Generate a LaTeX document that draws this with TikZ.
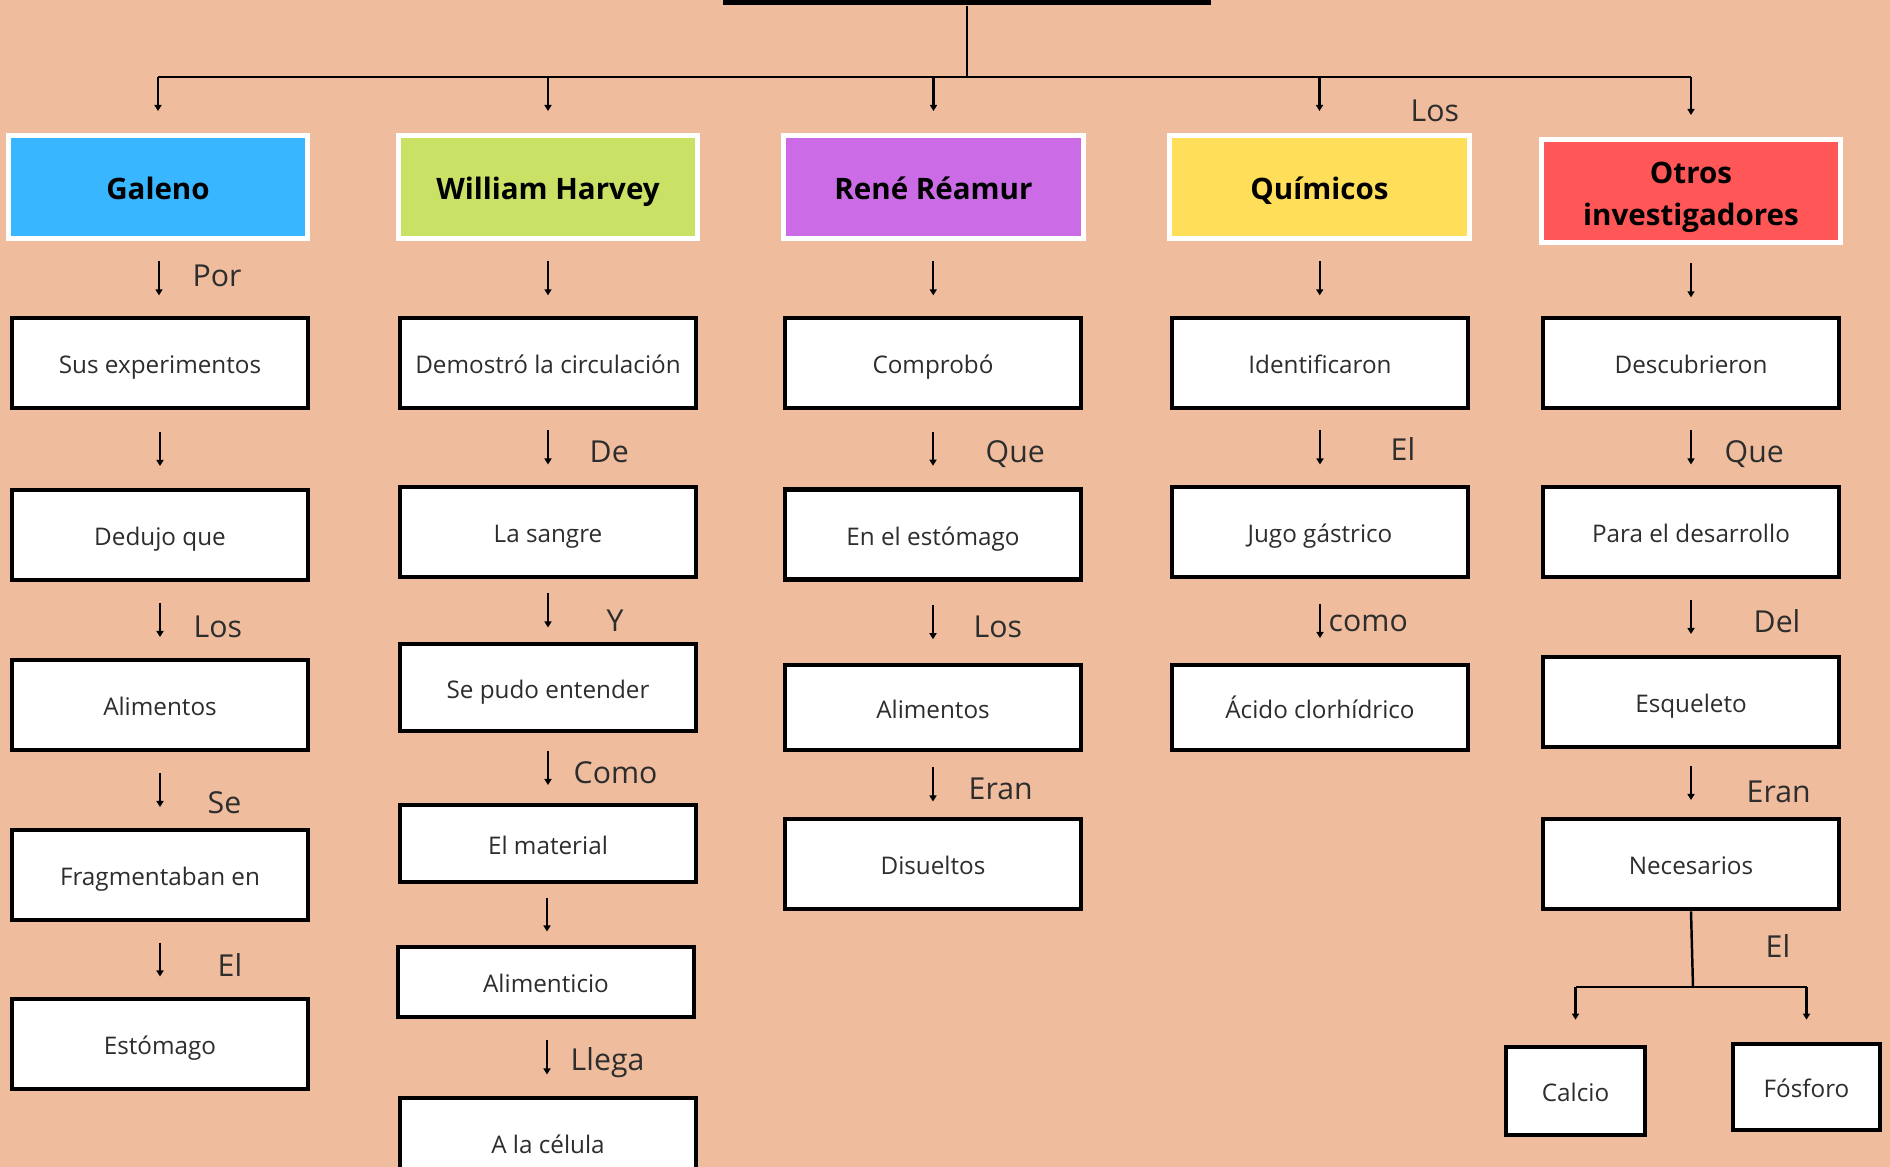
\documentclass[tikz,border=0pt]{standalone}
\usepackage{fontspec}
\setmainfont{Open Sans}
\usetikzlibrary{arrows.meta}
\usetikzlibrary{calc}

\definecolor{fondo}{RGB}{239,189,158}
\definecolor{azul}{RGB}{56,182,255}
\definecolor{lima}{RGB}{201,226,101}
\definecolor{morado}{RGB}{203,108,230}
\definecolor{amarillo}{RGB}{255,222,89}
\definecolor{rojo}{RGB}{255,87,87}
\definecolor{tinta}{RGB}{45,45,45}

\tikzset{
	cabeza/.style={draw=white, line width=1.4pt, minimum width=2.99cm, minimum height=1.03cm,
		font=\bfseries\fontsize{8.4}{12}\selectfont, align=center, inner sep=0pt,
		text height=0.73em, text depth=0pt},
	caja/.style={draw=black, fill=white, line width=1.3pt, minimum width=2.96cm, minimum height=0.9cm,
		font=\fontsize{6.9}{8}\selectfont, text=tinta, inner sep=0pt,
		text height=0.62em, text depth=0pt},
	flecha/.style={-{Triangle[length=0.06cm, width=0.07cm]}, line width=0.6pt},
	linea/.style={line width=0.7pt},
	nexo/.style={anchor=west, font=\fontsize{8.6}{10}\selectfont, text=tinta,
		text height=0.72em, text depth=0pt, inner sep=0pt, yshift=-0.7pt},
}

\begin{document}
\begin{tikzpicture}[x=0.01cm, y=-0.01cm]
	\useasboundingbox (0,0) rectangle (1890,1167);
	\fill[fondo] (0,0) rectangle (1890,1167);
	
	% titulo (solo se ve el borde inferior)
	\node[fill=black, minimum width=4.88cm, minimum height=0.06cm, inner sep=0pt] (titulo) at (967,2.5) {};
	\coordinate (rama) at (967,77);
	
	% cabeceras
	\node[cabeza, fill=azul] (galeno) at (158,187) {Galeno};
	\node[cabeza, fill=lima] (harvey) at (548,187) {William Harvey};
	\node[cabeza, fill=morado] (reaumur) at (933.5,187) {René Réamur};
	\node[cabeza, fill=amarillo] (quimicos) at (1319.5,187) {Químicos};
	\node[cabeza, fill=rojo, text height=19.5pt] (otros) at (1691,191) {Otros\\investigadores};
	
	\draw[linea] (titulo.south) -- (rama);
	\draw[linea] (rama -| galeno) -- (rama -| otros);
	\foreach \n in {galeno, harvey, reaumur, quimicos, otros}
	\draw[flecha] (rama -| \n) -- ($(\n.north)+(0,-22)$);
	\node[nexo] at (1410,106) {Los};
	
	% Galeno
	\node[caja] (g1) at (160,363) {Sus experimentos};
	\node[caja] (g2) at (160,535) {Dedujo que};
	\node[caja] (g3) at (160,705) {Alimentos};
	\node[caja] (g4) at (160,875) {Fragmentaban en};
	\node[caja] (g5) at (160,1044) {Estómago};
	
	% William Harvey
	\node[caja] (h1) at (548,363) {Demostró la circulación};
	\node[caja] (h2) at (548,532) {La sangre};
	\node[caja, minimum height=0.87cm] (h3) at (548,687.5) {Se pudo entender};
	\node[caja, minimum height=0.77cm] (h4) at (548,843.5) {El material};
	\node[caja, minimum height=0.7cm] (h5) at (546,982) {Alimenticio};
	\node[caja] (h6) at (548,1143) {A la célula};
	
	% René Réamur
	\node[caja] (r1) at (933,363) {Comprobó};
	\node[caja] (r2) at (933,534.5) {En el estómago};
	\node[caja, minimum height=0.85cm] (r3) at (933,707.5) {Alimentos};
	\node[caja] (r4) at (933,864) {Disueltos};
	
	% Quimicos
	\node[caja] (q1) at (1320,363) {Identificaron};
	\node[caja] (q2) at (1320,532) {Jugo gástrico};
	\node[caja, minimum height=0.85cm] (q3) at (1320,707.5) {Ácido clorhídrico};
	
	% Otros investigadores
	\node[caja] (o1) at (1691,363) {Descubrieron};
	\node[caja] (o2) at (1691,532) {Para el desarrollo};
	\node[caja] (o3) at (1691,702) {Esqueleto};
	\node[caja] (o4) at (1691,864) {Necesarios};
	\node[caja, minimum width=1.39cm, minimum height=0.88cm] (o5) at (1575.5,1091) {Calcio};
	\node[caja, minimum width=1.47cm, minimum height=0.86cm] (o6) at (1806.5,1087) {Fósforo};
	
	% flechas cortas con su nexo
	\foreach \a/\b/\t/\d/\e in {galeno/g1/Por/33/-7, g1/g2//0/0, g2/g3/Los/33/2, g3/g4/Se/47/8, g4/g5/El/57/2,
		harvey/h1//0/0, h1/h2/De/41/0, h2/h3/Y/58/6, h3/h4/Como/25/0, h4/h5//0/0, h5/h6/Llega/23/-2,
		reaumur/r1//0/0, r1/r2/Que/52/-1, r2/r3/Los/40/0, r3/r4/Eran/35/0,
		quimicos/q1//0/0, q1/q2/El/70/-2, q2/q3/como/8/-5,
		otros/o1//0/0, o1/o2/Que/33/0, o2/o3/Del/62/0, o3/o4/Eran/55/4}{
		\coordinate (m) at ($(\a.south)!0.5!(\b.north)$);
		\draw[flecha] ($(m)+(0,-17)$) -- ($(m)+(0,17)$);
		\node[nexo] at ($(m)+(\d,\e)$) {\t};
	}
	
	\coordinate (rama2) at (1693,987);
	\draw[linea] (o4.south) -- (rama2);
	\draw[linea] (rama2 -| o5) -- (rama2 -| o6);
	\draw[flecha] (rama2 -| o5) -- ($(o5.north)+(0,-25)$);
	\draw[flecha] (rama2 -| o6) -- ($(o6.north)+(0,-22)$);
	\node[nexo] at (1765,942) {El};
\end{tikzpicture}
\end{document}
